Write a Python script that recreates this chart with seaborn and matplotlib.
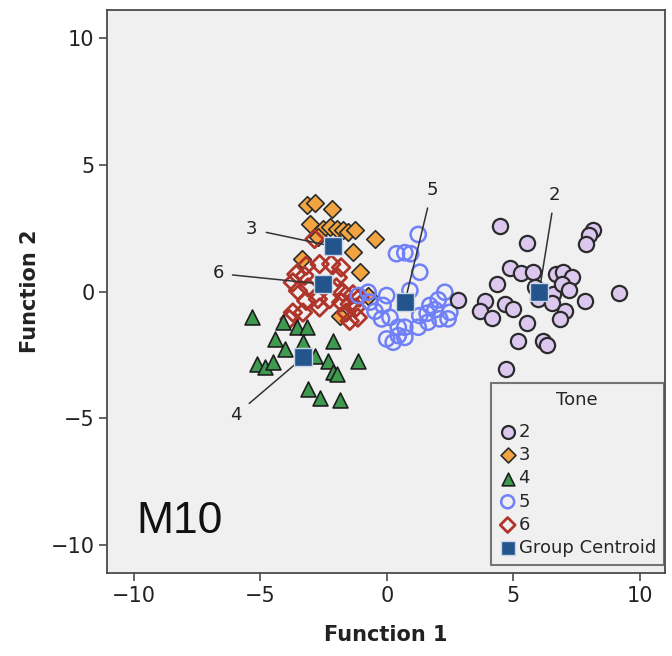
import matplotlib
matplotlib.use("Agg")
import matplotlib.pyplot as plt
import seaborn as sns
import pandas as pd

# ---------------- data ----------------
x2 = [4.47, 5.55, 4.86, 5.32, 5.76, 4.34, 2.82, 3.87, 3.68, 4.14, 4.66, 4.99, 5.55, 5.19, 6.18, 6.34, 4.73,
      5.85, 5.98, 6.57, 6.55, 6.68, 6.97, 7.32, 6.91, 7.19, 7.04, 6.84, 7.83, 8.15, 8.00, 7.89, 9.18]
y2 = [2.58, 1.92, 0.94, 0.72, 0.76, 0.28, -0.33, -0.38, -0.75, -1.04, -0.49, -0.68, -1.24, -1.96, -1.96, -2.11, -3.06,
      0.17, -0.29, -0.09, -0.46, 0.70, 0.76, 0.57, 0.28, 0.07, -0.75, -1.08, -0.38, 2.44, 2.21, 1.89, -0.07]

x3 = [-3.17, -2.85, -2.19, -3.04, -2.52, -2.25, -1.99, -1.73, -1.53, -1.26, -0.47, -1.33, -3.37, -1.07, -1.86, -0.74, -2.72]
y3 = [3.40, 3.47, 3.27, 2.68, 2.48, 2.54, 2.48, 2.41, 2.34, 2.41, 2.08, 1.55, 1.29, 0.76, -0.95, -0.16, 2.15]

x4 = [-5.35, -4.10, -3.57, -3.17, -4.43, -4.03, -3.31, -2.12, -5.15, -4.82, -4.49, -2.85, -2.32, -2.12, -1.99,
      -1.13, -3.11, -2.65, -1.86]
y4 = [-1.02, -1.21, -1.41, -1.41, -1.87, -2.26, -2.00, -1.94, -2.86, -2.99, -2.79, -2.53, -2.73, -3.19, -3.25,
      -2.73, -3.85, -4.18, -4.28]

x5 = [1.24, 0.38, 0.71, 0.94, 1.30, 0.91, 2.29, 2.03, 1.70, -0.01, -0.74, -1.13, -0.15, -0.47, 0.12, -0.21,
      1.30, 1.59, 1.90, 1.63, 2.09, 2.42, 2.49, 0.71, 1.24, 0.45, -0.01, 0.25, 0.71, 0.45, -0.67]
y5 = [2.25, 1.49, 1.53, 1.49, 0.76, 0.04, -0.03, -0.33, -0.55, -0.16, -0.03, -0.16, -0.55, -0.78, -1.02, -1.08,
      -0.95, -0.86, -0.72, -1.21, -1.08, -1.08, -0.82, -1.41, -1.41, -1.74, -1.87, -2.00, -1.81, -1.41, -0.42]

x6 = [-2.86, -3.19, -2.66, -2.20, -1.81, -3.58, -3.72, -3.25, -1.94, -3.52, -3.12, -2.00, -1.74, -1.34,
      -3.19, -2.73, -2.26, -1.81, -1.47, -1.08, -2.66, -1.61, -1.21, -3.72, -3.32, -3.85, -1.47, -1.15]
y6 = [2.07, 1.02, 1.08, 1.08, 0.95, 0.68, 0.36, 0.62, 0.55, 0.03, 0.16, 0.16, -0.04, -0.11,
      -0.37, -0.30, -0.30, -0.43, -0.50, -0.24, -0.63, -0.83, -0.63, -0.83, -0.83, -1.09, -1.16, -1.03]

tones = ["2", "3", "4", "5", "6"]
centroid_x = [6.02, -2.13, -3.31, 0.71, -2.53]
centroid_y = [-0.03, 1.78, -2.60, -0.42, 0.29]
label_x = [6.64, -5.34, -5.97, 1.78, -6.68]
label_y = [3.79, 2.45, -4.86, 3.99, 0.71]

ticks = [-10, -5, 0, 5, 10]

# ---------------- style ----------------
sns.set_style("ticks")
plt.rcParams["font.family"] = ["DejaVu Sans"]

fig = plt.figure(figsize=(6.72, 6.56), dpi=100)
ax = fig.add_axes([107 / 672, 1 - 573 / 656, 558 / 672, 563 / 656])
ax.set_facecolor("#F0F0F0")

styles = {
    "2": dict(marker="o", s=120, color="#DCC8EE", edgecolor="#2B2B2B", linewidth=1.6),
    "3": dict(marker="D", s=80, color="#F2A440", edgecolor="#2B2B2B", linewidth=1.2),
    "4": dict(marker="^", s=115, color="#3E9A4E", edgecolor="#1E1E1E", linewidth=1.2),
    "5": dict(marker="o", s=120, color="#7080F8", facecolor="none", edgecolor="#7080F8", linewidth=1.8),
    "6": dict(marker="D", s=80, color="#B0342A", facecolor="none", edgecolor="#B0342A", linewidth=2.0),
}
data = {"2": (x2, y2), "3": (x3, y3), "4": (x4, y4), "5": (x5, y5), "6": (x6, y6)}

handles = {}
for t in ["3", "6", "4", "5", "2"]:
    xs, ys = data[t]
    df = pd.DataFrame({"Function 1": xs, "Function 2": ys})
    sns.scatterplot(data=df, x="Function 1", y="Function 2", ax=ax, zorder=3, legend=False, **styles[t])
    handles[t] = ax.collections[-1]

# annotation lines for centroids
for t, cx, cy, lx, ly in zip(tones, centroid_x, centroid_y, label_x, label_y):
    ax.annotate(t, xy=(cx, cy), xytext=(lx, ly), ha="center", va="center", fontsize=13, color="#222222",
                arrowprops=dict(arrowstyle="-", color="#333333", lw=1.1, shrinkA=4, shrinkB=0),
                zorder=4)

cdf = pd.DataFrame({"x": centroid_x, "y": centroid_y})
sns.scatterplot(data=cdf, x="x", y="y", ax=ax, marker="s", s=160, color="#23548C",
                edgecolor="#C8D6E8", linewidth=1.0, zorder=5, legend=False)
handles["c"] = ax.collections[-1]

ax.set_xlim(-11.07, 11.0)
ax.set_ylim(-11.1, 11.1)
ax.set_xticks(ticks)
ax.set_yticks(ticks)
ax.tick_params(direction="out", length=6, width=1.2, color="#4A4A4A", labelsize=15, labelcolor="#222222", pad=3)
for sp in ax.spines.values():
    sp.set_visible(True)
    sp.set_color("#4A4A4A")
    sp.set_linewidth(1.3)

ax.set_xlabel("Function 1", fontsize=15, fontweight="bold", color="#222222")
ax.set_ylabel("Function 2", fontsize=15, fontweight="bold", color="#222222")
ax.xaxis.set_label_coords(0.5, -0.092)
ax.yaxis.set_label_coords(-0.12, 0.5)

ax.text(-8.2, -9.05, "M10", fontsize=32, family=["Liberation Sans"], ha="center", va="center", color="#111111")

leg = ax.legend([handles[t] for t in tones] + [handles["c"]], tones + ["Group Centroid"],
                title="Tone", loc="lower right", bbox_to_anchor=(0.998, 0.014), fontsize=13, title_fontsize=13,
                frameon=True, fancybox=False, markerscale=0.85, handletextpad=0.1, handlelength=1.0,
                labelspacing=0.29, borderpad=0.45, borderaxespad=0.0)
leg.get_frame().set_facecolor("#F0F0F0")
leg.get_frame().set_edgecolor("#555555")
leg.get_frame().set_linewidth(1.5)
leg.set_zorder(10)
leg._legend_box.sep = 10

fig.savefig("out.png", dpi=100, facecolor="white")
